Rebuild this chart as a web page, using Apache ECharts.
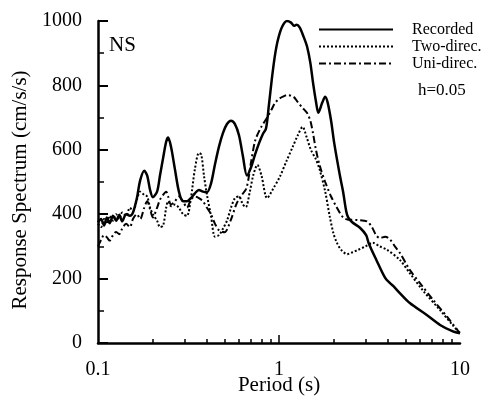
<!DOCTYPE html>
<html><head><meta charset="utf-8">
<script src="https://cdn.jsdelivr.net/npm/echarts@6/dist/echarts.min.js"></script>
<style>html,body{margin:0;padding:0;background:#fff}#c{width:490px;height:398px}</style>
</head><body><div id="c"></div>
<script>
const seriesNames = ['Recorded', 'Two-direc.', 'Uni-direc.'];

const recPeriod = [0.100,0.104,0.108,0.112,0.116,0.121,0.126,0.131,0.136,0.143,0.150,0.156,0.164,0.171,0.180,0.187,0.194,0.201,0.212,0.220,0.229,0.238,0.244,0.253,0.266,0.280,0.295,0.310,0.326,0.343,0.361,0.380,0.400,0.421,0.443,0.466,0.490,0.516,0.543,0.571,0.601,0.632,0.665,0.700,0.737,0.775,0.816,0.847,0.880,0.913,0.948,0.985,1.036,1.107,1.166,1.21,1.25,1.30,1.37,1.43,1.49,1.54,1.60,1.65,1.73,1.80,1.86,1.94,2.02,2.17,2.26,2.35,2.41,2.54,2.80,3.03,3.13,3.45,3.86,4.12,4.26,4.65,5.28,6.55,7.76,9.13,10];
const recValue = [375,385,365,390,372,395,380,398,378,400,395,405,450,505,535,520,475,453,470,520,575,625,638,610,540,470,440,440,450,465,475,470,468,495,555,610,652,680,690,680,645,580,520,545,585,620,650,665,740,820,890,940,980,1000,995,985,988,980,950,920,870,810,750,715,745,765,745,690,620,520,470,410,390,375,358,335,310,258,202,185,178,155,124,87,56,36,30];

const twoPeriod = [0.100,0.104,0.108,0.112,0.116,0.121,0.126,0.131,0.136,0.143,0.150,0.156,0.164,0.171,0.180,0.187,0.194,0.201,0.212,0.220,0.229,0.238,0.244,0.253,0.266,0.280,0.295,0.310,0.326,0.343,0.361,0.372,0.385,0.400,0.421,0.443,0.466,0.490,0.516,0.543,0.571,0.600,0.632,0.655,0.690,0.72,0.76,0.80,0.86,0.93,1.01,1.10,1.19,1.27,1.35,1.42,1.50,1.60,1.68,1.80,1.91,2.00,2.09,2.20,2.38,2.55,2.73,3.00,3.30,3.60,3.94,4.65,5.28,6.20,7.76,9.13,10];
const twoValue = [370,360,385,370,395,380,400,385,405,395,420,410,445,470,460,455,420,400,380,360,365,420,440,425,430,420,400,395,450,540,590,585,520,460,395,330,335,355,380,420,450,455,430,422,470,520,553,520,450,480,516,565,609,645,671,640,600,570,537,470,391,340,311,290,276,282,289,300,311,300,290,258,217,165,102,55,30];

const uniPeriod = [0.100,0.104,0.108,0.112,0.116,0.121,0.126,0.131,0.136,0.143,0.150,0.156,0.164,0.171,0.180,0.187,0.194,0.201,0.212,0.220,0.229,0.238,0.244,0.253,0.266,0.280,0.295,0.310,0.326,0.343,0.361,0.380,0.400,0.421,0.443,0.466,0.500,0.540,0.580,0.610,0.660,0.700,0.740,0.800,0.860,0.910,0.950,1.000,1.050,1.110,1.200,1.270,1.350,1.430,1.490,1.540,1.600,1.680,1.800,1.940,2.090,2.260,2.410,2.730,3.060,3.260,3.440,3.610,3.860,4.100,4.370,4.650,5.280,6.010,7.100,8.500,9.750,10];
const uniValue = [300,320,335,328,318,335,345,338,355,370,360,385,400,385,420,440,415,390,420,445,460,470,455,430,440,455,440,420,445,455,450,440,420,400,370,350,344,380,430,453,480,560,630,672,700,725,745,758,765,770,765,748,730,714,690,652,600,550,500,455,420,390,383,382,378,360,335,326,330,322,300,280,227,186,134,81,38,32];

const xMinorTicks = [0.2,0.3,0.4,0.5,0.6,0.7,0.8,0.9,2,3,4,5,6,7,8,9];
const xMajorTicks = [1];
const yMin = 0, yMax = 1000, yStep = 200;

function zip(a, b) { return a.map((t, i) => [t, b[i]]); }

const FONT = 'Liberation Serif';
const chart = echarts.init(document.getElementById('c'), null, {renderer: 'canvas'});
chart.setOption({
  animation: false,
  backgroundColor: '#fff',
  color: ['#000', '#000', '#000'],
  grid: {left: 98, right: 30, top: 21, bottom: 55, containLabel: false, outerBoundsMode: 'none'},
  legend: {
    orient: 'vertical', left: 318, top: 21, padding: 0, itemWidth: 74, itemHeight: 12, itemGap: 0,
    data: seriesNames,
    itemStyle: {opacity: 0},
    textStyle: {fontFamily: FONT, fontSize: 16, color: '#000', lineHeight: 13, padding: [4, 0, 0, 14]}
  },
  xAxis: [{
    type: 'log', logBase: 10, min: 0.1, max: 10, position: 'bottom',
    name: 'Period (s)', nameLocation: 'middle', nameGap: 32, nameMoveOverlap: false,
    nameTextStyle: {fontFamily: FONT, fontSize: 21, color: '#000'},
    axisLine: {show: true, lineStyle: {color: '#000', width: 2.5}},
    axisTick: {show: true, inside: true, length: 8, lineStyle: {color: '#000', width: 1.5}, customValues: xMajorTicks},
    axisLabel: {fontFamily: FONT, fontSize: 20, color: '#000', margin: 17},
    splitLine: {show: false}
  }, {
    type: 'log', logBase: 10, min: 0.1, max: 10, position: 'bottom', offset: 0,
    axisLine: {show: false},
    axisTick: {show: true, inside: true, length: 4, lineStyle: {color: '#000', width: 1.5}, customValues: xMinorTicks},
    axisLabel: {show: false},
    splitLine: {show: false}
  }],
  yAxis: {
    type: 'value', min: yMin, max: yMax, interval: yStep,
    name: 'Response Spectrum (cm/s/s)', nameLocation: 'middle', nameGap: 67, nameMoveOverlap: false,
    nameTextStyle: {fontFamily: FONT, fontSize: 21, color: '#000', padding: [0, 16, 0, 0]},
    axisLine: {show: true, lineStyle: {color: '#000', width: 2.5}},
    axisTick: {show: true, inside: true, length: 10, lineStyle: {color: '#000', width: 2}},
    minorTick: {show: true, splitNumber: 2, length: 6, lineStyle: {color: '#000', width: 1.5}},
    axisLabel: {fontFamily: FONT, fontSize: 20, color: '#000', margin: 16, formatter: v => String(v)},
    splitLine: {show: false}
  },
  graphic: [
    {type: 'text', left: 109, top: 35, style: {text: 'NS', font: '21px "Liberation Serif"', fill: '#000'}},
    {type: 'text', left: 418, top: 82, style: {text: 'h=0.05', font: '17px "Liberation Serif"', fill: '#000'}}
  ],
  series: [
    {name: seriesNames[0], type: 'line', xAxisIndex: 0, symbol: 'none', smooth: 0.3,
     lineStyle: {color: '#000', width: 2.5, type: 'solid'}, data: zip(recPeriod, recValue)},
    {name: seriesNames[1], type: 'line', xAxisIndex: 0, symbol: 'none', smooth: 0.3,
     lineStyle: {color: '#000', width: 2, type: [2, 2]}, data: zip(twoPeriod, twoValue)},
    {name: seriesNames[2], type: 'line', xAxisIndex: 0, symbol: 'none', smooth: 0.3,
     lineStyle: {color: '#000', width: 2, type: [7, 3, 2, 3]}, data: zip(uniPeriod, uniValue)}
  ]
});
</script></body></html>
